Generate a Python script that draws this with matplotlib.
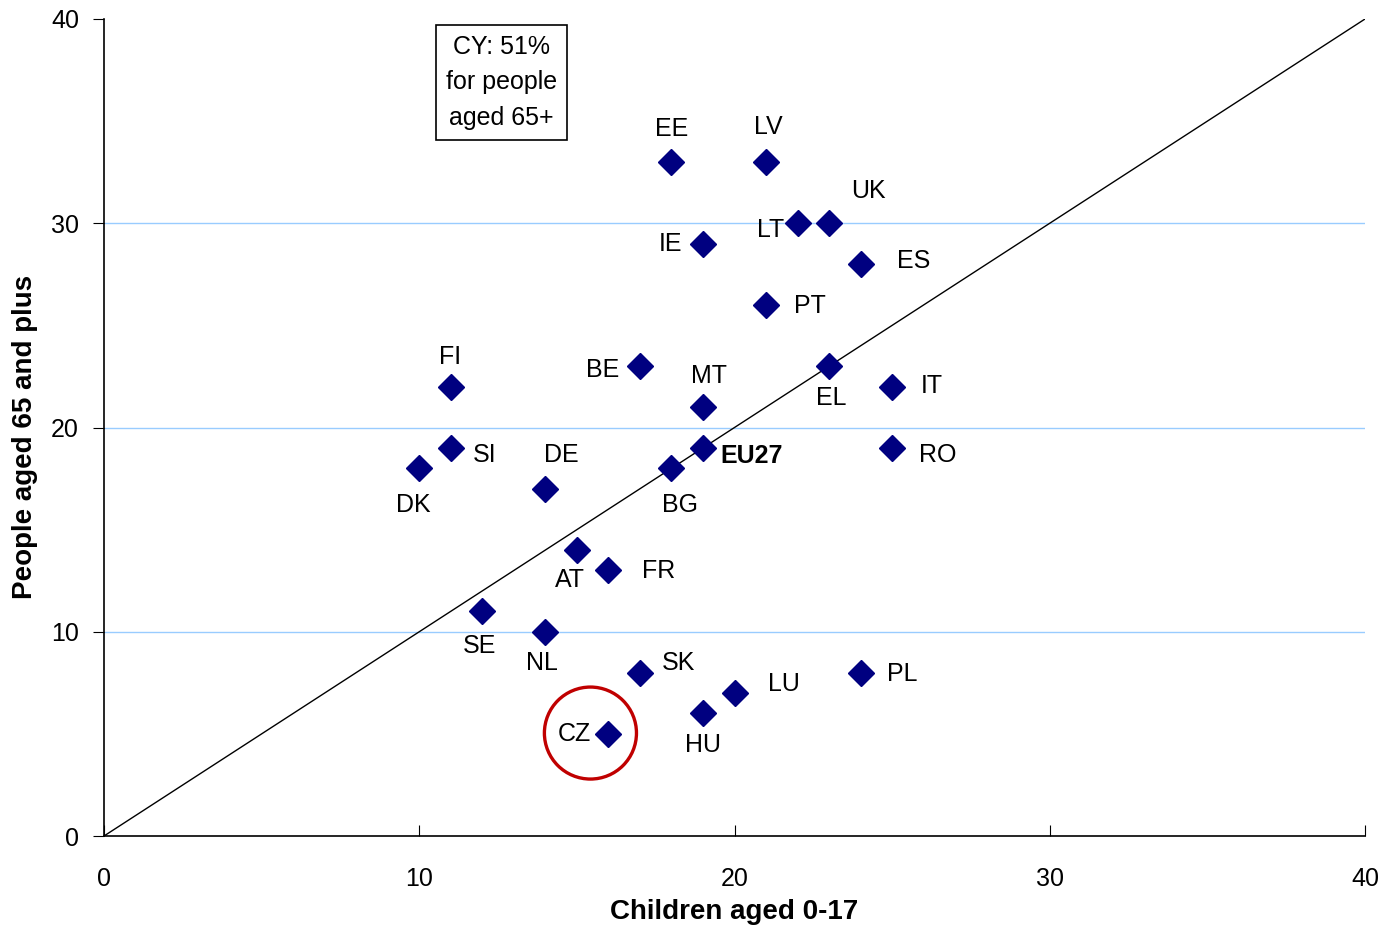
import matplotlib
matplotlib.use("Agg")
import matplotlib.pyplot as plt
from matplotlib.patches import Ellipse

plt.rcParams['font.family'] = ['Liberation Sans', 'DejaVu Sans']

countries = ["EE", "LV", "UK", "LT", "IE", "ES", "PT", "BE", "EL", "FI", "IT", "MT",
             "SI", "EU27", "RO", "DK", "BG", "DE", "AT", "FR", "SE", "NL", "SK", "PL",
             "LU", "HU", "CZ"]
children = [18, 21, 23, 22, 19, 24, 21, 17, 23, 11, 25, 19,
            11, 19, 25, 10, 18, 14, 15, 16, 12, 14, 17, 24,
            20, 19, 16]
elderly = [33, 33, 30, 30, 29, 28, 26, 23, 23, 22, 22, 21,
           19, 19, 19, 18, 18, 17, 14, 13, 11, 10, 8, 8,
           7, 6, 5]
# label offsets in pixels (dx, dy)
offsets = {"EE": (0, 33), "LV": (2, 35), "UK": (39, 32), "LT": (-27, -7), "IE": (-32, 0),
           "ES": (53, 3), "PT": (44, -1), "BE": (-37, -4), "EL": (2, -32), "FI": (-1, 30),
           "IT": (40, 1), "MT": (6, 31), "SI": (34, -7), "EU27": (49, -8), "RO": (46, -7),
           "DK": (-6, -37), "BG": (9, -37), "DE": (16, 34), "AT": (-7, -30), "FR": (50, -1),
           "SE": (-3, -35), "NL": (-3, -31), "SK": (39, 10), "PL": (42, -1), "LU": (49, 9),
           "HU": (0, -32), "CZ": (-34, 0)}

x_ticks = [0, 10, 20, 30, 40]
y_ticks = [0, 10, 20, 30, 40]

FS = 18

fig = plt.figure(figsize=(13.82, 9.27), dpi=100)
ax = fig.add_axes([104/1382, 91/927, (1365-104)/1382, (836-19)/927])
ax.set_xlim(0, 40)
ax.set_ylim(0, 40)

for yv in [10, 20, 30]:
    ax.axhline(yv, color='#99CCFF', lw=1.0, zorder=1)

ax.plot([0, 40], [0, 40], color='black', lw=1.0, zorder=2)

ax.plot(children, elderly, linestyle='none', marker='D', markersize=13.5,
        color='#000080', zorder=3)

for c, xv, yv in zip(countries, children, elderly):
    dx, dy = offsets[c]
    ax.annotate(c, (xv, yv), xytext=(dx, dy), textcoords='offset pixels',
                ha='center', va='center', fontsize=FS,
                fontweight='bold' if c == 'EU27' else 'normal', zorder=4)

ax.add_patch(Ellipse((15.43, 5.04), 92/31.5, 92/20.425, fill=False,
                     edgecolor='#C00000', lw=2.4, zorder=5))

ax.text(12.6, 36.9, "CY: 51%\nfor people\naged 65+", ha='center', va='center',
        fontsize=FS, linespacing=1.6,
        bbox=dict(boxstyle='square,pad=0.4', facecolor='white', edgecolor='black', lw=1.2))

ax.spines['top'].set_visible(False)
ax.spines['right'].set_visible(False)
ax.spines['left'].set_linewidth(1.2)
ax.spines['bottom'].set_linewidth(1.2)
ax.set_xticks(x_ticks)
ax.set_yticks(y_ticks)
ax.tick_params(axis='x', direction='in', length=8, pad=22, labelsize=FS)
ax.tick_params(axis='y', direction='out', length=8, pad=10, labelsize=FS)

ax.set_xlabel("Children aged 0-17", fontsize=20, fontweight='bold')
ax.set_ylabel("People aged 65 and plus", fontsize=20, fontweight='bold')
ax.xaxis.set_label_coords((734 - 104) / 1261, (836 - 912) / 817)
ax.yaxis.set_label_coords((25 - 104) / 1261, (836 - 437) / 817)
ax.xaxis.label.set_va('center')
ax.yaxis.label.set_va('center')

fig.savefig("out.png", dpi=100)
